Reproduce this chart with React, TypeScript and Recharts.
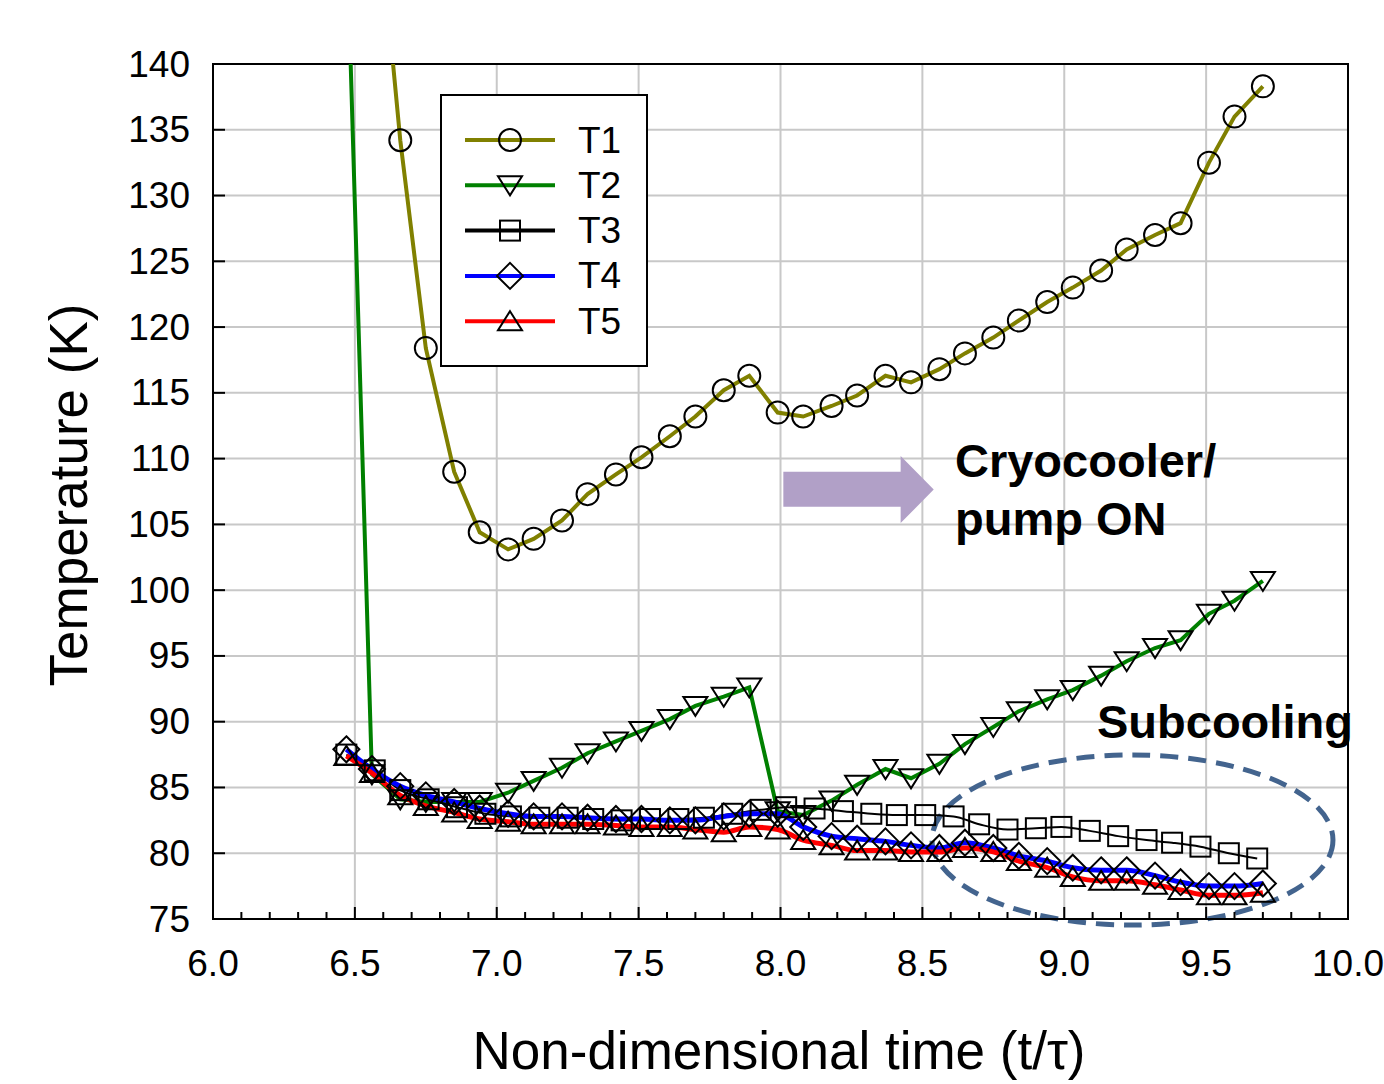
import React from 'react';
import {
  LineChart,
  Line,
  XAxis,
  YAxis,
  CartesianGrid,
  Legend,
  ReferenceArea,
} from 'recharts';

// sampling times (t/tau) shared by T1, T2, T4, T5
const timeMain = [
  6.47, 6.56, 6.66, 6.75, 6.85, 6.94, 7.04, 7.13, 7.23, 7.32, 7.42, 7.51,
  7.61, 7.7, 7.8, 7.89, 7.99, 8.08, 8.18, 8.27, 8.37, 8.46, 8.56, 8.65,
  8.75, 8.84, 8.94, 9.03, 9.13, 9.22, 9.32, 9.41, 9.51, 9.6, 9.7,
];
// T3 markers sit on a slightly wider spacing
const timeT3 = [
  6.47, 6.57, 6.66, 6.76, 6.86, 6.96, 7.05, 7.15, 7.25, 7.34, 7.44, 7.54,
  7.64, 7.73, 7.83, 7.93, 8.02, 8.12, 8.22, 8.32, 8.41, 8.51, 8.61, 8.7,
  8.8, 8.9, 8.99, 9.09, 9.19, 9.29, 9.38, 9.48, 9.58, 9.68,
];

const t1Values = [
  null, 157, 134.2, 118.4, 109.0, 104.4, 103.1, 103.9, 105.3, 107.3, 108.8, 110.1,
  111.7, 113.2, 115.2, 116.3, 113.5, 113.2, 114.0, 114.8, 116.3, 115.8, 116.8, 118.0,
  119.2, 120.5, 121.9, 123.0, 124.3, 125.9, 127.0, 127.9, 132.5, 136.0, 138.3,
];
const t2Values = [
  151, 86.0, 84.1, 83.9, 83.9, 83.9, 84.6, 85.5, 86.5, 87.6, 88.5, 89.3,
  90.2, 91.2, 91.9, 92.6, 83.2, 82.9, 84.0, 85.2, 86.4, 85.7, 86.8, 88.3,
  89.6, 90.8, 91.7, 92.4, 93.5, 94.6, 95.6, 96.2, 98.2, 99.2, 100.7,
];
const t3Values = [
  87.5, 86.3, 84.8, 84.1, 83.5, 83.0, 82.8, 82.7, 82.7, 82.6, 82.5, 82.6,
  82.6, 82.7, 83.0, 83.3, 83.5, 83.4, 83.2, 83.0, 82.9, 82.9, 82.8, 82.2,
  81.8, 81.9, 82.0, 81.7, 81.3, 81.0, 80.8, 80.5, 80.0, 79.6,
];
const t4Values = [
  87.9, 86.4, 85.1, 84.4, 83.9, 83.4, 83.0, 82.8, 82.8, 82.7, 82.6, 82.6,
  82.5, 82.5, 82.8, 83.0, 83.0, 82.0, 81.3, 81.1, 80.9, 80.6, 80.4, 80.8,
  80.4, 79.8, 79.4, 78.9, 78.7, 78.7, 78.3, 77.8, 77.5, 77.5, 77.7,
];
const t5Values = [
  87.4, 86.1, 84.4, 83.6, 83.1, 82.6, 82.4, 82.2, 82.2, 82.2, 82.1, 82.0,
  82.0, 81.8, 81.6, 82.0, 81.8, 81.0, 80.6, 80.2, 80.2, 80.1, 80.1, 80.4,
  80.1, 79.4, 78.9, 78.2, 77.9, 77.9, 77.6, 77.2, 76.8, 76.8, 77.0,
];

const xMajorTicks = [6.0, 6.5, 7.0, 7.5, 8.0, 8.5, 9.0, 9.5, 10.0];
const xAllTicks = xMajorTicks
  .slice(0, -1)
  .flatMap((m) => [0, 1, 2, 3, 4].map((i) => Math.round((m + i * 0.1) * 10) / 10))
  .concat([10.0]);
const yTicks = [75, 80, 85, 90, 95, 100, 105, 110, 115, 120, 125, 130, 135, 140];

const FONT = '"Liberation Sans", Arial, Helvetica, sans-serif';

const toPoints = (times: number[], values: (number | null)[]) =>
  times
    .map((t, i) => ({ t, v: values[i] }))
    .filter((p) => p.v !== null && p.v !== undefined);

const series = [
  { name: 'T1', color: '#808000', width: 4, marker: 'circle', curve: 'linear', data: toPoints(timeMain, t1Values) },
  { name: 'T2', color: '#008000', width: 4, marker: 'down', curve: 'linear', data: toPoints(timeMain, t2Values) },
  { name: 'T3', color: '#000000', width: 2, marker: 'square', curve: 'monotone', data: toPoints(timeT3, t3Values) },
  { name: 'T4', color: '#0000ff', width: 5, marker: 'diamond', curve: 'monotone', data: toPoints(timeMain, t4Values) },
  { name: 'T5', color: '#ff0000', width: 5, marker: 'up', curve: 'monotone', data: toPoints(timeMain, t5Values) },
];

const Marker = ({ shape, cx, cy }: { shape: string; cx: number; cy: number }) => {
  const s = { fill: 'none', stroke: '#000', strokeWidth: 2 };
  switch (shape) {
    case 'circle':
      return <circle cx={cx} cy={cy} r={11} {...s} />;
    case 'down':
      return <path d={`M${cx - 12},${cy - 9}L${cx + 12},${cy - 9}L${cx},${cy + 10}Z`} {...s} />;
    case 'square':
      return <rect x={cx - 10} y={cy - 10} width={20} height={20} {...s} />;
    case 'diamond':
      return <path d={`M${cx},${cy - 13}L${cx + 13},${cy}L${cx},${cy + 13}L${cx - 13},${cy}Z`} {...s} />;
    default:
      return <path d={`M${cx},${cy - 10}L${cx + 12},${cy + 9}L${cx - 12},${cy + 9}Z`} {...s} />;
  }
};

const XTick = ({ x, y, payload }: any) => {
  const v = payload.value as number;
  const major = Math.abs(v * 2 - Math.round(v * 2)) < 1e-6;
  return (
    <g>
      <line x1={x} x2={x} y1={y} y2={y - (major ? 12 : 7)} stroke="#000" strokeWidth={2} />
      {major && (
        <text x={x} y={y + 44} textAnchor="middle" dominantBaseline="central" fontSize={37} fontFamily={FONT} fill="#000">
          {v.toFixed(1)}
        </text>
      )}
    </g>
  );
};

const YTick = ({ x, y, payload }: any) => (
  <g>
    <line x1={x} x2={x + 12} y1={y} y2={y} stroke="#000" strokeWidth={2} />
    <text x={x - 23} y={y} textAnchor="end" dominantBaseline="central" fontSize={37} fontFamily={FONT} fill="#000">
      {payload.value}
    </text>
  </g>
);

const ArrowShape = ({ x, y, width: w, height: h }: any) => {
  const hb = x + w * 0.78;
  const d = `M${x},${y + h * 0.234}L${hb},${y + h * 0.234}L${hb},${y}L${x + w},${y + h / 2}L${hb},${y + h}L${hb},${y + h * 0.757}L${x},${y + h * 0.757}Z`;
  return <path d={d} fill="#b1a0c7" />;
};

const EllipseShape = ({ x, y, width: w, height: h }: any) => (
  <ellipse
    cx={x + w / 2}
    cy={y + h / 2}
    rx={w / 2}
    ry={h / 2}
    fill="none"
    stroke="#43648e"
    strokeWidth={5}
    strokeDasharray="18 10"
  />
);

const LegendBox = () => (
  <div style={{ width: 208, height: 273, border: '2px solid #000', boxSizing: 'border-box', background: '#fff' }}>
    <svg width={204} height={269}>
      {series.map((s, i) => {
        const cy = 44 + i * 45.3;
        return (
          <g key={s.name}>
            <line x1={23} x2={113} y1={cy} y2={cy} stroke={s.color} strokeWidth={4} />
            <Marker shape={s.marker} cx={68} cy={cy} />
            <text x={136} y={cy} dominantBaseline="central" fontSize={37} fontFamily={FONT} fill="#000">
              {s.name}
            </text>
          </g>
        );
      })}
    </svg>
  </div>
);

const noteStyle: React.CSSProperties = {
  position: 'absolute',
  fontFamily: FONT,
  fontWeight: 'bold',
  fontSize: 47,
  lineHeight: '58px',
  color: '#000',
  whiteSpace: 'nowrap',
};

const titleStyle: React.CSSProperties = {
  position: 'absolute',
  fontFamily: FONT,
  fontSize: 53,
  lineHeight: '53px',
  color: '#000',
  whiteSpace: 'nowrap',
};

export default function App() {
  return (
    <div style={{ position: 'absolute', left: 0, top: 0, width: 1384, height: 1084, background: '#fff' }}>
      <LineChart width={1384} height={1084} margin={{ top: 64, right: 36, left: 113, bottom: 105 }}>
        <CartesianGrid stroke="#c8c8c8" strokeWidth={2} verticalValues={xMajorTicks} />
        <ReferenceArea x1={8.01} x2={8.54} y1={105.1} y2={110.19} shape={<ArrowShape />} ifOverflow="visible" />
        <XAxis
          dataKey="t"
          type="number"
          domain={[6, 10]}
          allowDataOverflow
          ticks={xAllTicks}
          interval={0}
          tickSize={0}
          tickMargin={0}
          tickLine={false}
          axisLine={{ stroke: '#000', strokeWidth: 2 }}
          height={60}
          tick={XTick}
        />
        <YAxis
          type="number"
          domain={[75, 140]}
          allowDataOverflow
          ticks={yTicks}
          interval={0}
          width={100}
          tickSize={0}
          tickMargin={0}
          tickLine={false}
          axisLine={{ stroke: '#000', strokeWidth: 2 }}
          tick={YTick}
        />
        {series.map((s) => (
          <Line
            key={s.name}
            name={s.name}
            data={s.data}
            dataKey="v"
            type={s.curve as any}
            stroke={s.color}
            strokeWidth={s.width}
            dot={(p: any) =>
              p.cx == null || p.cy == null ? (
                <g key={`${s.name}-${p.index}`} />
              ) : (
                <g key={`${s.name}-${p.index}`}>
                  <Marker shape={s.marker} cx={p.cx} cy={p.cy} />
                </g>
              )
            }
            activeDot={false}
            isAnimationActive={false}
          />
        ))}
        <ReferenceArea x1={8.534} x2={9.947} y1={74.54} y2={87.47} shape={<EllipseShape />} ifOverflow="visible" />
        <ReferenceArea x1={6} x2={10} y1={75} y2={140} fill="none" fillOpacity={0} stroke="#000" strokeWidth={2} />
        <Legend
          layout="vertical"
          align="center"
          verticalAlign="middle"
          wrapperStyle={{ left: 440, top: 94, width: 208, height: 273 }}
          content={() => <LegendBox />}
        />
      </LineChart>

      <div style={{ ...noteStyle, left: 955, top: 432 }}>
        Cryocooler/
        <br />
        pump ON
      </div>
      <div style={{ ...noteStyle, left: 1097, top: 693 }}>Subcooling</div>

      <div style={{ ...titleStyle, left: 68, top: 495, transform: 'translate(-50%, -50%) rotate(-90deg)' }}>
        Temperature (K)
      </div>
      <div style={{ ...titleStyle, left: 779, top: 1024, transform: 'translateX(-50%)' }}>
        Non-dimensional time (t/τ)
      </div>
    </div>
  );
}
